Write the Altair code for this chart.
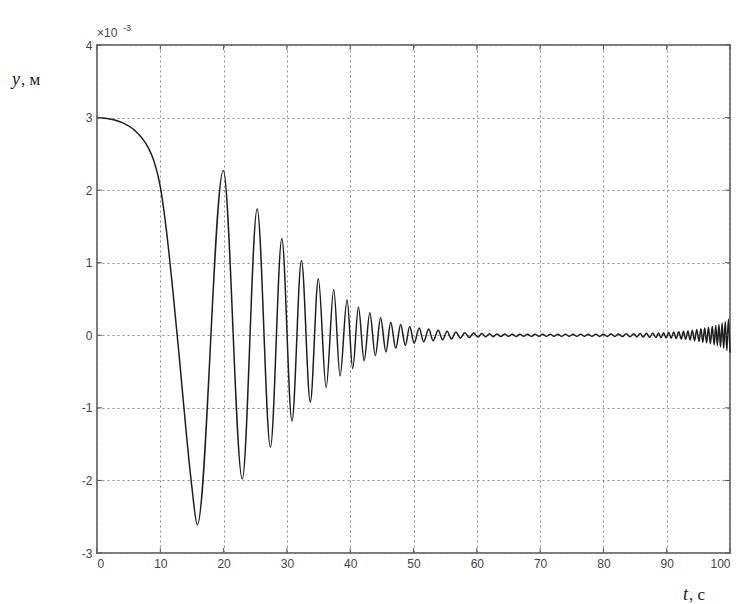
import altair as alt
import pandas as pd

# time (s) and displacement (x 1e-3 m): points along the descent, then the extrema
t_vals = [0, 2, 4, 6, 8, 9, 10, 11, 12, 13, 14, 15, 15.85,
          19.95, 22.95, 25.3, 27.4, 29.2, 30.8, 32.3, 33.7, 34.97, 36.2, 37.4, 38.4,
          39.5, 40.4, 41.3, 42.2, 43.1, 43.97, 44.8, 45.65, 46.4, 47.2, 47.97, 48.7,
          49.4, 50.1,
          50.9, 51.6, 52.4, 53.1, 53.9, 54.6, 55.3, 56.0, 56.7, 57.4, 58.1, 58.8,
          59.5, 60.2, 60.8, 61.4, 62.0, 62.6, 63.2, 63.8, 64.4, 65.0, 65.6, 66.2,
          66.8, 67.4, 68.0, 68.6, 69.2, 69.8, 70.4, 71.0, 71.6, 72.2, 72.8, 73.4,
          74.0, 74.6, 75.2, 75.8, 76.4, 77.0, 77.6, 78.2, 78.8, 79.4, 80.0, 80.6,
          81.2, 81.8, 82.4, 83.0, 83.6, 84.2, 84.8, 85.3, 85.8, 86.3, 86.8, 87.3,
          87.8, 88.3, 88.7, 89.1, 89.5, 89.9, 90.3, 90.7, 91.1, 91.5, 91.9, 92.3,
          92.65, 93.0, 93.35, 93.7, 94.05, 94.4, 94.75, 95.1, 95.4, 95.7, 96.0, 96.3,
          96.6, 96.9, 97.2, 97.5, 97.75, 98.0, 98.25, 98.5, 98.75, 99.0, 99.25, 99.5,
          99.75, 100.0]
y_vals = [3.0, 2.98, 2.93, 2.82, 2.6, 2.4, 2.05, 1.42, 0.6, -0.3, -1.25, -2.1, -2.61,
          2.27, -1.98, 1.74, -1.54, 1.33, -1.18, 1.03, -0.92, 0.78, -0.72, 0.63, -0.56,
          0.49, -0.46, 0.39, -0.35, 0.31, -0.28, 0.24, -0.23, 0.18, -0.18, 0.15, -0.14,
          0.12, -0.11,
          0.10, -0.09, 0.085, -0.075, 0.07, -0.06, 0.055, -0.05, 0.045, -0.04, 0.035, -0.03,
          0.03, -0.025, 0.025, -0.02, 0.02, -0.02, 0.018, -0.018, 0.018, -0.016, 0.016, -0.016,
          0.015, -0.015, 0.015, -0.015, 0.014, -0.014, 0.014, -0.014, 0.014, -0.014, 0.014, -0.014,
          0.014, -0.014, 0.015, -0.015, 0.015, -0.015, 0.015, -0.015, 0.016, -0.016, 0.016, -0.016,
          0.017, -0.017, 0.018, -0.018, 0.02, -0.02, 0.022, -0.022, 0.025, -0.025, 0.028, -0.028,
          0.03, -0.03, 0.033, -0.033, 0.036, -0.036, 0.04, -0.04, 0.045, -0.045, 0.05, -0.05,
          0.055, -0.055, 0.06, -0.065, 0.07, -0.075, 0.08, -0.085, 0.09, -0.095, 0.10, -0.105,
          0.11, -0.115, 0.12, -0.13, 0.135, -0.14, 0.15, -0.16, 0.17, -0.18, 0.19, -0.21,
          0.22, -0.24]

x_ticks = [0, 10, 20, 30, 40, 50, 60, 70, 80, 90, 100]
y_ticks = [-3, -2, -1, 0, 1, 2, 3, 4]

W, H = 633, 508
LABEL = "Liberation Sans"
SERIF = "Liberation Serif"

df = pd.DataFrame({"t": t_vals, "y": y_vals})
xs = alt.Scale(domain=[0, 100], nice=False)
ys = alt.Scale(domain=[-3, 4], nice=False)

x_axis = alt.Axis(values=x_ticks, grid=True, domain=False, ticks=False, labelPadding=5,
                  gridDash=[2, 3], gridColor="#8a8a8a", gridWidth=1,
                  labelFont=LABEL, labelFontSize=12, labelColor="#444",
                  labelExpr="toString(datum.value)")
y_axis = alt.Axis(values=y_ticks, grid=True, domain=False, ticks=False, labelPadding=5,
                  gridDash=[2, 3], gridColor="#8a8a8a", gridWidth=1,
                  labelFont=LABEL, labelFontSize=12, labelColor="#444",
                  labelExpr="toString(datum.value)")

line = alt.Chart(df).mark_line(color="#1e1e1e", strokeWidth=1.5, interpolate="monotone").encode(
    x=alt.X("t:Q", scale=xs, title=None, axis=x_axis),
    y=alt.Y("y:Q", scale=ys, title=None, axis=y_axis),
)

xt = pd.DataFrame({"t": x_ticks})
yt = pd.DataFrame({"y": y_ticks})
tick_style = dict(color="#555", strokeWidth=1)
xb = alt.Chart(xt).mark_rule(**tick_style).encode(
    x=alt.X("t:Q", scale=xs, title=None, axis=x_axis), y=alt.value(H), y2=alt.value(H - 5))
xtop = alt.Chart(xt).mark_rule(**tick_style).encode(
    x=alt.X("t:Q", scale=xs, title=None, axis=x_axis), y=alt.value(0), y2=alt.value(5))
yl = alt.Chart(yt).mark_rule(**tick_style).encode(
    y=alt.Y("y:Q", scale=ys, title=None, axis=y_axis), x=alt.value(0), x2=alt.value(5))
yr = alt.Chart(yt).mark_rule(**tick_style).encode(
    y=alt.Y("y:Q", scale=ys, title=None, axis=y_axis), x=alt.value(W), x2=alt.value(W - 5))


def txt(s, x, y, **kw):
    return alt.Chart(pd.DataFrame({"s": [s]})).mark_text(align="left", baseline="alphabetic", **kw).encode(
        text="s:N", x=alt.value(x), y=alt.value(y))


exp1 = txt("×10", 0, -8, font=LABEL, fontSize=12, color="#444")
exp2 = txt("-3", 26, -14, font=LABEL, fontSize=9, color="#444")
ylab1 = txt("y", -85, 40, font=SERIF, fontSize=18, fontStyle="italic", color="#222")
ylab2 = txt(", м", -76, 40, font=SERIF, fontSize=17, color="#222")
xlab1 = txt("t", 586, 555, font=SERIF, fontSize=18, fontStyle="italic", color="#222")
xlab2 = txt(", с", 592, 555, font=SERIF, fontSize=17, color="#222")

chart = alt.layer(line, xb, xtop, yl, yr, exp1, exp2, ylab1, ylab2, xlab1, xlab2).properties(
    width=W, height=H,
    autosize=alt.AutoSizeParams(type="none"),
    padding={"left": 97, "top": 45, "right": 13, "bottom": 51},
    background="white",
).configure_view(stroke="#7a7a7a", strokeWidth=2)

chart.save("out.html", embed_options={"renderer": "svg", "actions": False})
